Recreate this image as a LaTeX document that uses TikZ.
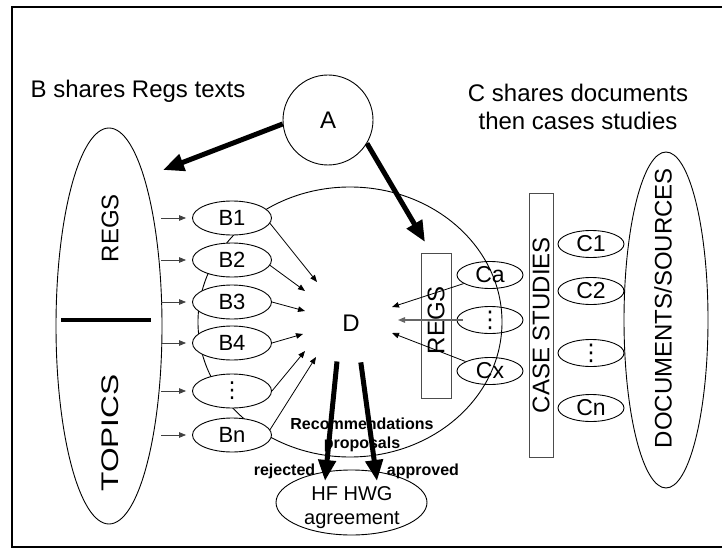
\documentclass[tikz,border=0pt]{standalone}
\usepackage{fontspec}
\setmainfont{Liberation Sans}
\newfontfamily\dvfont{DejaVu Sans}
\usetikzlibrary{shapes.geometric,arrows.meta}
\newcommand\bigtxt{\fontsize{24}{28}\selectfont}
\newcommand\btxt{\fontsize{22}{26}\selectfont}
\newcommand\ctxt{\fontsize{23}{27}\selectfont}
\newcommand\smallbold{\fontsize{16}{19}\selectfont\bfseries}
\begin{document}
\begin{tikzpicture}[x=1pt,y=-1pt,
  outline/.style={line width=0.9pt},
  bell/.style={ellipse, draw, outline, fill=white, minimum width=79pt, minimum height=34pt, inner sep=0pt, font=\btxt},
  cell/.style={ellipse, draw, outline, minimum width=66pt, minimum height=27pt, inner sep=0pt, font=\ctxt},
  fine/.style={-{Triangle[length=7pt,width=5.5pt]}, line width=0.8pt},
  feed/.style={fine, draw=black!75, shorten >=6pt, shorten <=-1pt},
  heavy/.style={-{Triangle[length=21pt,width=17pt]}, line width=5pt},
  graybox/.style={rectangle, draw=black!70, line width=0.9pt, inner sep=0pt}
]
\useasboundingbox (0,0) rectangle (722,548);
\fill[white] (0,0) rectangle (722,548);
\draw[line width=2pt] (735,7) -- (12,7) -- (12,546.5) -- (735,546.5);

% titles
\node[font=\bigtxt] (tB) at (138,91) {B shares Regs texts};
\node[font=\bigtxt, align=center] (tC) at (578,107) {C shares documents\\then cases studies};

% A
\node[circle, draw, outline, minimum size=90pt, inner sep=0pt, font=\bigtxt] (A) at (328,120) {A};

% left ellipse
\node[ellipse, draw, outline, minimum width=106pt, minimum height=396pt, inner sep=0pt] (L) at (109,326) {};
\node[rotate=90, font=\bigtxt] (lR) at (110,228) {REGS};
\node[rotate=90, xscale=1.32, font=\bigtxt] (lT) at (110,433) {TOPICS};
\draw[line width=4pt] (61,320) -- (151,320);

% big ellipse and D
\node[ellipse, draw, outline, minimum width=304pt, minimum height=270pt, inner sep=0pt] (Dc) at (350,322) {};
\node[ellipse, minimum width=96pt, minimum height=80pt, inner sep=0pt, font=\bigtxt] (D) at (351,323) {D};

% C ellipses inside (no fill)
\node[cell] (Ca) at (490,275) {Ca};
\node[cell] (Cd) at (490,320) {\dvfont ⋮};
\node[cell] (Cx) at (490,371) {Cx};

% inner REGS box
\node[graybox, minimum width=30pt, minimum height=145pt] (R2) at (436,325.5) {};
\node[rotate=90, font=\bigtxt] (R2t) at (436,320) {REGS};

% case studies box
\node[graybox, rotate=90, minimum width=264pt, minimum height=24pt, font=\bigtxt] (CS) at (541,325) {CASE STUDIES};

% C1..Cn
\node[cell] (C1) at (591,244) {C1};
\node[cell] (C2) at (591,291) {C2};
\node[cell] (C3) at (591,353) {\dvfont ⋮};
\node[cell] (Cn) at (591,408) {Cn};

% documents ellipse
\node[ellipse, draw, outline, minimum width=84pt, minimum height=336pt, inner sep=0pt] (DS) at (666,320) {};
\node[rotate=90, font=\bigtxt] (DSt) at (663,308) {DOCUMENTS/SOURCES};

% B ellipses
\node[bell] (B1) at (232,218) {B1};
\node[bell] (B2) at (232,260) {B2};
\node[bell] (B3) at (232,302) {B3};
\node[bell] (B4) at (232,343) {B4};
\node[bell] (B5) at (232,391) {\dvfont ⋮};
\node[bell] (Bn) at (232,435) {Bn};

% HF node
\node[ellipse, draw, outline, minimum width=151pt, minimum height=65pt, inner sep=0pt] (HF) at (351.5,502.5) {};
\node[align=center, font=\fontsize{20}{24}\selectfont] (HFt) at (352,508) {HF HWG\\agreement};

% labels
\node[font=\smallbold, align=center] (rec) at (362,435) {Recommendations\\proposals};
\node[font=\smallbold] (rej) at (284.5,471) {rejected};
\node[font=\smallbold] (app) at (423,471) {approved};

% tip coordinates
\coordinate (tL) at (163,170);
\coordinate (tR) at (425,242);
\coordinate (dB1) at (317,282);
\coordinate (dB2) at (305,291);
\coordinate (dB3) at (305,311);
\coordinate (dB4) at (303,334);
\coordinate (dB5) at (305,351);
\coordinate (dBn) at (316,357);
\coordinate (dCa) at (392,307);
\coordinate (dCd) at (398,320);
\coordinate (dCx) at (392,333);
\coordinate (hL) at (325,481);
\coordinate (hR) at (377,481);

% feed arrows from left ellipse
\foreach \b in {B1,B2,B3,B4,B5,Bn}
  \draw[feed] (L.east |- \b) -- (\b.west);

% arrows B -> D
\draw[fine] (B1.-8) -- (dB1);
\draw[fine] (B2.-8) -- (dB2);
\draw[fine] (B3.east) -- (dB3);
\draw[fine] (B4.east) -- (dB4);
\draw[fine] (B5.east) -- (dB5);
\draw[fine] (Bn.8) -- (dBn);

% arrows C -> D
\draw[fine] (Ca) -- (dCa);
\draw[fine, draw=black!60, line width=1.3pt] (Cd.west) ++(6,0) -- (dCd);
\draw[fine] (Cx) -- (dCx);

% heavy arrows
\draw[heavy] (A.185) -- (tL);
\draw[heavy] (A.-31) -- (tR);
\draw[heavy] (D.250) -- (hL);
\draw[heavy] (D.284) -- (hR);
\end{tikzpicture}
\end{document}
